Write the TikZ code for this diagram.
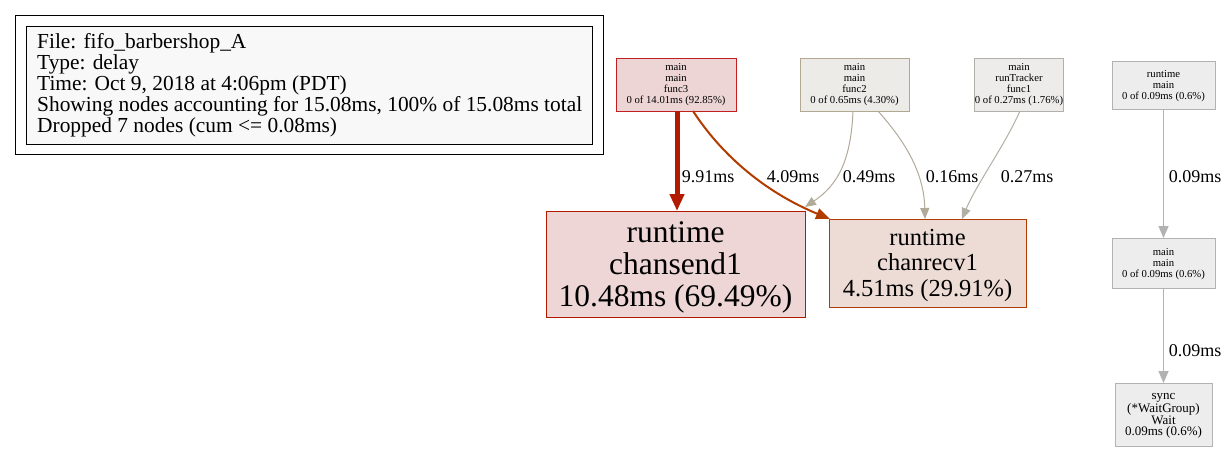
\documentclass[tikz,border=0pt]{standalone}
\usepackage{fontspec}
\setmainfont{Liberation Serif}
\usetikzlibrary{arrows.meta}
\definecolor{fthreefill}{HTML}{EDD5D5}
\definecolor{fthreedraw}{HTML}{C02020}
\definecolor{sendfill}{HTML}{EDD6D5}
\definecolor{senddraw}{HTML}{B21A00}
\definecolor{recvfill}{HTML}{EDDCD5}
\definecolor{recvdraw}{HTML}{B23C00}
\definecolor{ftwofill}{HTML}{EDEBE8}
\definecolor{ftwodraw}{HTML}{B2A791}
\definecolor{fonefill}{HTML}{EDECEB}
\definecolor{fonedraw}{HTML}{B2B0AA}
\definecolor{greyfill}{HTML}{EDEDED}
\definecolor{greydraw}{HTML}{B2B2B2}
\definecolor{legfill}{HTML}{F8F8F8}
\definecolor{eone}{HTML}{B21B00}
\definecolor{etwo}{HTML}{B23C00}
\definecolor{ethree}{HTML}{B2AA99}
\definecolor{efive}{HTML}{B2AFA6}
\definecolor{egrey}{HTML}{B2B2B2}
\tikzset{
  gnode/.style={draw, rectangle, inner sep=0pt, outer sep=0pt, align=center, line width=1pt},
  smalltxt/.style={font=\fontsize{10.7}{11}\selectfont},
  plaintxt/.style={inner sep=0pt, align=center},
  lbl/.style={inner sep=0pt, font=\fontsize{18}{20}\selectfont},
  edge/.style={line width=1pt, -{Triangle[length=11pt,width=9pt]}},
}
\begin{document}
\begin{tikzpicture}[x=1pt,y=-1pt]
\useasboundingbox (0,0) rectangle (1228,453);
\fill[white] (0,0) rectangle (1228,453);
% legend
\node[draw, line width=1pt, inner sep=0pt, outer sep=0pt, minimum width=588pt, minimum height=139pt] (legendouter) at (309,84.5) {};
\node[draw, fill=legfill, line width=1pt, inner sep=0pt, outer sep=0pt, minimum width=566pt, minimum height=118pt] (legendinner) at (309,85) {};
\node[anchor=west, inner sep=0pt, align=left, font=\fontsize{21.4}{21}\selectfont] (legendtext) at (37,85.5) {File: fifo\_barbershop\_A\\Type: delay\\Time: Oct 9, 2018 at 4:06pm (PDT)\\Showing nodes accounting for 15.08ms, 100\% of 15.08ms total\\Dropped 7 nodes (cum <= 0.08ms)};
% nodes
\node[gnode, smalltxt, fill=fthreefill, draw=fthreedraw, minimum width=120pt, minimum height=53pt] (func3) at (676,84.5) {main\\main\\func3\\0 of 14.01ms (92.85\%)};
\node[gnode, smalltxt, fill=ftwofill, draw=ftwodraw, minimum width=109pt, minimum height=53pt] (func2) at (854.5,84.5) {main\\main\\func2\\0 of 0.65ms (4.30\%)};
\node[gnode, smalltxt, fill=fonefill, draw=fonedraw, minimum width=82pt, minimum height=53pt] (func1) at (1019,84.5) {main\\runTracker\\func1\\0 of 0.27ms (1.76\%)};
\node[gnode, fill=greyfill, draw=greydraw, minimum width=103pt, minimum height=48pt] (rtmain) at (1163.5,85) {};
\node[plaintxt, smalltxt] (rtmaintxt) at (1163.5,86.5) {runtime\\main\\0 of 0.09ms (0.6\%)};
\node[gnode, fill=sendfill, draw=senddraw, minimum width=259pt, minimum height=106pt] (send) at (675.5,264) {};
\node[plaintxt, font=\fontsize{31.5}{32}\selectfont] (sendtxt) at (675.5,267) {runtime\\chansend1\\10.48ms (69.49\%)};
\node[gnode, fill=recvfill, draw=recvdraw, minimum width=197pt, minimum height=88pt] (recv) at (927.5,263) {};
\node[plaintxt, font=\fontsize{24.5}{25.5}\selectfont] (recvtxt) at (927.5,265) {runtime\\chanrecv1\\4.51ms (29.91\%)};
\node[gnode, smalltxt, fill=greyfill, draw=greydraw, minimum width=103pt, minimum height=50pt] (mainmain) at (1163.5,263) {};
\node[plaintxt, smalltxt] (mainmaintxt) at (1163.5,264) {main\\main\\0 of 0.09ms (0.6\%)};
\node[gnode, fill=greyfill, draw=greydraw, minimum width=97pt, minimum height=63pt] (sync) at (1163.5,414.5) {};
\node[plaintxt, font=\fontsize{13}{11.3}\selectfont] (synctxt) at (1163.5,416) {sync\\(*WaitGroup)\\Wait\\0.09ms (0.6\%)};
% edges
\draw[eone, line width=5pt, -{Triangle[length=17pt,width=14pt]}] ([xshift=1pt]func3.south) -- ([xshift=1.5pt]send.north);
\draw[etwo, line width=2pt, -{Triangle[length=14pt,width=11pt]}] ([xshift=17pt]func3.south) .. controls (715,145) and (755,188) .. ([xshift=1pt]recv.north west);
\draw[ethree, edge] ([xshift=-1.5pt]func2.south) .. controls (851,160) and (838,185) .. ([yshift=4pt]send.north east);
\draw[ethree, edge] ([xshift=23.5pt]func2.south) .. controls (902,138) and (924,170) .. ([xshift=-2.5pt]recv.north);
\draw[efive, edge] ([xshift=1pt]func1.south) .. controls (1005,145) and (976,185) .. ([xshift=34.5pt]recv.north);
\draw[egrey, line width=1.5pt, -{Triangle[length=12pt,width=10pt]}] (rtmain.south) -- (mainmain.north);
\draw[egrey, line width=1.5pt, -{Triangle[length=12pt,width=10pt]}] (mainmain.south) -- (sync.north);
% labels
\node[lbl] (l1) at (708,177) {9.91ms};
\node[lbl] (l2) at (793,177) {4.09ms};
\node[lbl] (l3) at (869,177) {0.49ms};
\node[lbl] (l4) at (952,177) {0.16ms};
\node[lbl] (l5) at (1027,177) {0.27ms};
\node[lbl] (l6) at (1195,177) {0.09ms};
\node[lbl] (l7) at (1195,351) {0.09ms};
\end{tikzpicture}
\end{document}
